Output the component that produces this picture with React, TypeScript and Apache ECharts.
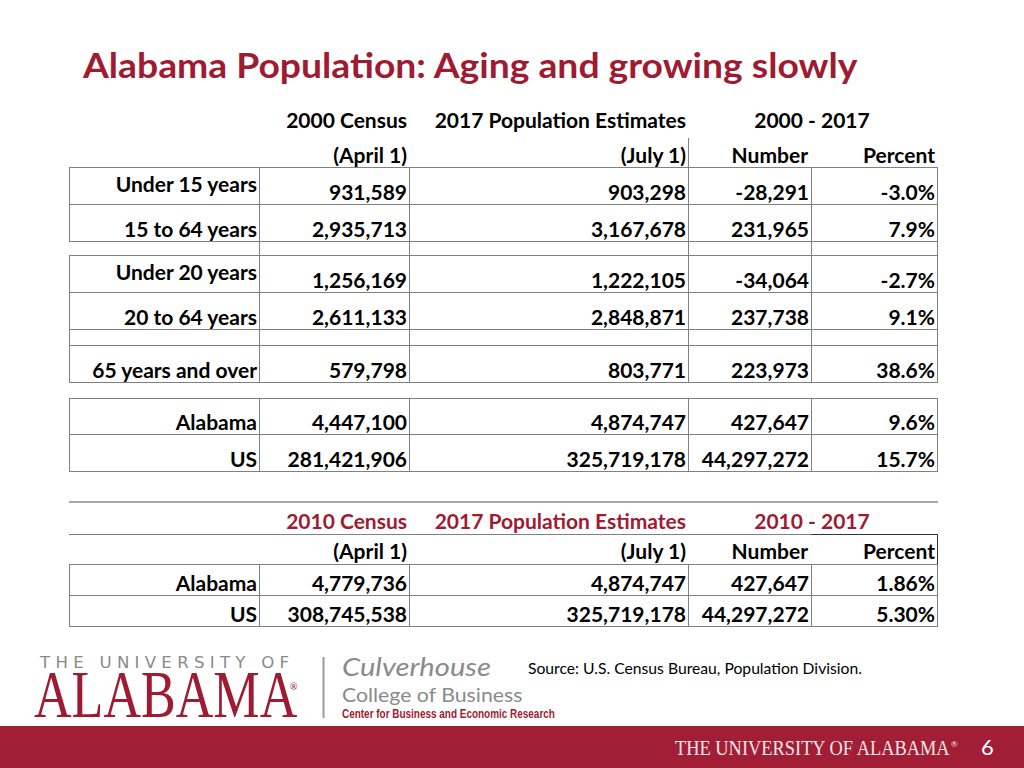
import React, { useEffect, useRef } from "react";
import * as echarts from "echarts";

// ---------- data ----------
const title = "Alabama Population: Aging and growing slowly";
const headers2000 = ["2000 Census", "2017 Population Estimates", "2000 - 2017"];
const headers2010 = ["2010 Census", "2017 Population Estimates", "2010 - 2017"];
const subHeaders = ["(April 1)", "(July 1)", "Number", "Percent"];

const rowLabels2000 = ["Under 15 years", "15 to 64 years", "Under 20 years", "20 to 64 years", "65 years and over", "Alabama", "US"];
const census2000 = [931589, 2935713, 1256169, 2611133, 579798, 4447100, 281421906];
const estimates2017a = [903298, 3167678, 1222105, 2848871, 803771, 4874747, 325719178];
const change2000Number = [-28291, 231965, -34064, 237738, 223973, 427647, 44297272];
const change2000Percent = [-3.0, 7.9, -2.7, 9.1, 38.6, 9.6, 15.7];

const rowLabels2010 = ["Alabama", "US"];
const census2010 = [4779736, 308745538];
const estimates2017b = [4874747, 325719178];
const change2010Number = [427647, 44297272];
const change2010Percent = [1.86, 5.3];

const sourceText = "Source: U.S. Census Bureau, Population Division.";
const pageNumber = "6";

// ---------- style / layout ----------
const CRIMSON = "#9E1B32";
const GRID = "#808080";
const FONT = "Lato, 'Open Sans', sans-serif";
const FS = 21;
const colX = [69, 259, 409, 688, 811, 937];

const fmt = (n: number) => n.toLocaleString("en-US");

function txt(text: string, x: number, y: number, opts: any = {}) {
  const align = opts.align || "right";
  const fontSize = opts.fontSize || FS;
  return {
    type: "text",
    silent: true,
    x: opts.ex || 0,
    y: opts.ey || 0,
    scaleX: opts.scaleX || 1,
    scaleY: opts.scaleY || 1,
    style: {
      text,
      x,
      y,
      fill: opts.fill || "#000",
      fontSize,
      lineHeight: Math.round(fontSize * 1.05),
      fontWeight: opts.fontWeight || "bold",
      fontStyle: opts.fontStyle || "normal",
      fontFamily: opts.fontFamily || FONT,
      align,
      textAlign: align,
      verticalAlign: "middle",
      textVerticalAlign: "middle",
    },
  };
}

function hline(x1: number, x2: number, y: number, stroke = GRID, w = 1) {
  const yy = w % 2 === 1 ? Math.round(y) + 0.5 : Math.round(y);
  return { type: "line", silent: true, shape: { x1, y1: yy, x2, y2: yy }, style: { stroke, lineWidth: w } };
}
function vline(x: number, y1: number, y2: number, stroke = GRID, w = 1) {
  const xx = Math.round(x) + 0.5;
  return { type: "line", silent: true, shape: { x1: xx, y1, x2: xx, y2 }, style: { stroke, lineWidth: w } };
}

function buildGraphic() {
  const g: any[] = [];

  // title
  g.push(txt(title, 0, 0, { align: "left", fill: CRIMSON, fontSize: 35, ex: 83, ey: 64, scaleX: 1.065 }));

  // ---- table 1 header ----
  g.push(txt(headers2000[0], colX[2] - 2, 119));
  g.push(txt(headers2000[1], colX[3] - 2, 119));
  g.push(txt(headers2000[2], 812, 119, { align: "center" }));
  g.push(txt(subHeaders[0], colX[2] - 2, 154));
  g.push(txt(subHeaders[1], colX[3] - 2, 154));
  g.push(txt(subHeaders[2], colX[4] - 3, 154));
  g.push(txt(subHeaders[3], colX[5] - 2, 154));
  g.push(vline(colX[3], 138, 167));

  // ---- table 1 grid ----
  const rowTop = [167, 204, 255, 292, 345, 398, 434];
  const rowBot = [204, 241, 292, 329, 382, 434, 471];
  [167, 204, 241, 255, 292, 329, 345, 382, 398, 434, 471].forEach((y) => g.push(hline(colX[0], colX[5] + 1, y)));
  [[167, 241], [255, 382], [398, 471]].forEach(([a, b]) => colX.forEach((x) => g.push(vline(x, a, b))));
  colX.slice(1).forEach((x) => g.push(vline(x, 241, 255)));

  // ---- table 1 values ----
  rowLabels2000.forEach((lab, i) => {
    const yc = rowBot[i] - 13;
    const labelTop = i === 0 || i === 2;
    g.push(txt(lab, colX[1] - 2, labelTop ? rowTop[i] + 16 : yc));
    g.push(txt(fmt(census2000[i]), colX[2] - 2, yc));
    g.push(txt(fmt(estimates2017a[i]), colX[3] - 2, yc));
    g.push(txt(fmt(change2000Number[i]), colX[4] - 2, yc));
    g.push(txt(change2000Percent[i].toFixed(1) + "%", colX[5] - 2, yc));
  });

  // ---- table 2 ----
  g.push(hline(colX[0], colX[5] + 1, 502, "#a6a6a6", 2));
  g.push(txt(headers2010[0], colX[2] - 2, 520, { fill: CRIMSON }));
  g.push(txt(headers2010[1], colX[3] - 2, 520, { fill: CRIMSON }));
  g.push(txt(headers2010[2], 812, 520, { align: "center", fill: CRIMSON }));
  g.push(txt(subHeaders[0], colX[2] - 2, 550));
  g.push(txt(subHeaders[1], colX[3] - 2, 550));
  g.push(txt(subHeaders[2], colX[4] - 3, 550));
  g.push(txt(subHeaders[3], colX[5] - 2, 550));
  [534, 564, 595, 626].forEach((y) => g.push(hline(colX[0], colX[5] + 1, y)));
  g.push(hline(colX[4], colX[5] + 1, 534, "#333"));
  g.push(vline(colX[5], 534, 564, "#333"));
  colX.forEach((x) => g.push(vline(x, 564, 626)));
  const rowBot2 = [595, 626];
  rowLabels2010.forEach((lab, i) => {
    const yc = rowBot2[i] - 13;
    g.push(txt(lab, colX[1] - 2, yc));
    g.push(txt(fmt(census2010[i]), colX[2] - 2, yc));
    g.push(txt(fmt(estimates2017b[i]), colX[3] - 2, yc));
    g.push(txt(fmt(change2010Number[i]), colX[4] - 2, yc));
    g.push(txt(change2010Percent[i].toFixed(2) + "%", colX[5] - 2, yc));
  });

  // ---- logo block ----
  g.push(txt("T H E   U N I V E R S I T Y   O F", 40, 662, {
    align: "left", fill: "#8a8a8a", fontSize: 16.6, fontWeight: "normal", fontFamily: "'DejaVu Sans', sans-serif",
  }));
  g.push(txt("ALABAMA", 0, 0, {
    align: "left", fill: CRIMSON, fontSize: 62, fontWeight: "normal", fontFamily: "'Liberation Serif', serif",
    ex: 34, ey: 695, scaleX: 0.84, scaleY: 1.08,
  }));
  g.push(txt("®", 290, 686, { align: "left", fill: CRIMSON, fontSize: 9, fontWeight: "normal" }));
  g.push(vline(323, 657, 718, "#9a9a9a", 2));
  g.push(txt("Culverhouse", 0, 0, {
    align: "left", fill: "#8a8a8a", fontSize: 26, fontWeight: "normal", fontStyle: "italic", fontFamily: "Lato, sans-serif",
    ex: 342, ey: 666, scaleX: 1.12,
  }));
  g.push(txt("College of Business", 0, 0, {
    align: "left", fill: "#8a8a8a", fontSize: 19, fontWeight: "normal", fontFamily: "Lato, sans-serif",
    ex: 342, ey: 694, scaleX: 1.12,
  }));
  g.push(txt("Center for Business and Economic Research", 0, 0, {
    align: "left", fill: CRIMSON, fontSize: 12, fontWeight: "bold", fontFamily: "'Liberation Sans Narrow', 'Liberation Sans', sans-serif",
    ex: 342, ey: 714, scaleX: 0.83,
  }));
  g.push(txt(sourceText, 528, 668, { align: "left", fontSize: 15.7, fontWeight: "normal" }));

  // ---- footer ----
  g.push({ type: "rect", silent: true, shape: { x: 0, y: 726, width: 1024, height: 42 }, style: { fill: "#A21E36" } });
  g.push(txt("THE UNIVERSITY OF ALABAMA", 0, 0, {
    align: "left", fill: "#f3e6e8", fontSize: 20, fontWeight: "normal", fontFamily: "'Liberation Serif', serif",
    ex: 675, ey: 748, scaleX: 0.92,
  }));
  g.push(txt("®", 951, 744, { align: "left", fill: "#f3e6e8", fontSize: 8, fontWeight: "normal" }));
  g.push(txt(pageNumber, 981, 746, { align: "left", fill: "#ffffff", fontSize: 22, fontWeight: "normal" }));

  return g;
}

export default function App() {
  const ref = useRef<HTMLDivElement>(null);
  useEffect(() => {
    if (!ref.current) return;
    const chart = echarts.init(ref.current, undefined, { renderer: "svg" });
    chart.setOption({
      animation: false,
      backgroundColor: "#ffffff",
      graphic: { elements: buildGraphic() },
    });
    return () => chart.dispose();
  }, []);
  return (
    <div
      ref={ref}
      style={{ position: "absolute", left: 0, top: 0, width: 1024, height: 768, background: "#fff" }}
    />
  );
}
